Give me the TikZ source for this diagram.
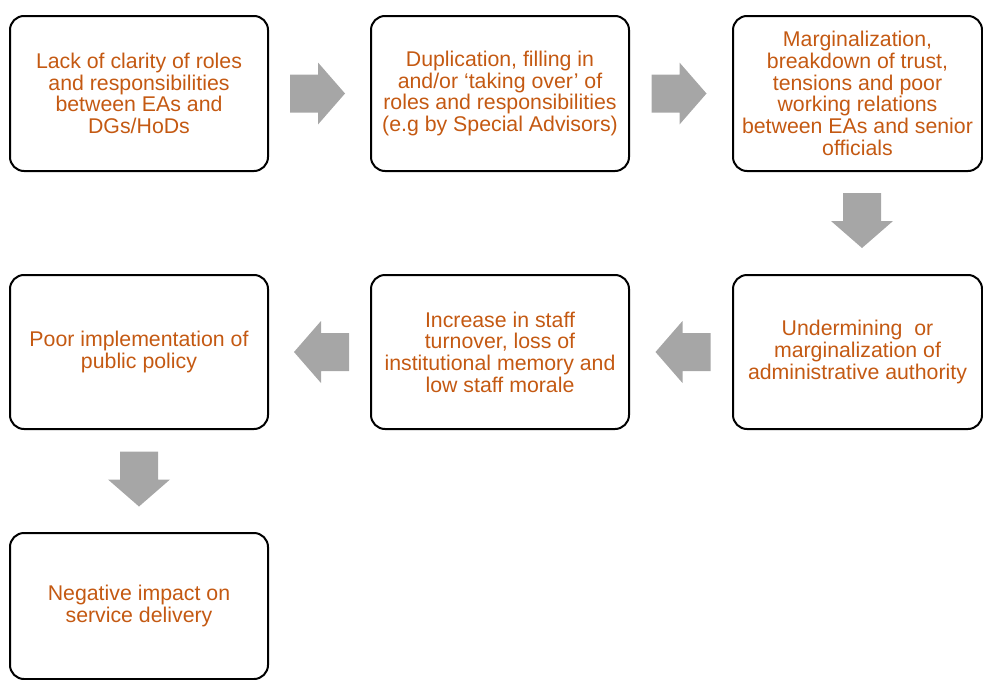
\documentclass[tikz,border=0pt]{standalone}
\usepackage{fontspec}
\setmainfont{Liberation Sans}
\usepackage{tikz}
\usetikzlibrary{calc}
\definecolor{morange}{rgb}{0.77, 0.35, 0.07}
\definecolor{mgray}{rgb}{0.65, 0.65, 0.65}

\begin{document}
\begin{tikzpicture}[x=1pt, y=-1pt,
    stepbox/.style={draw=black, line width=2pt, rounded corners=14pt, minimum width=258pt, minimum height=155pt, inner sep=0pt, align=center, text=morange, font=\fontsize{21.3}{21.7}\selectfont},
    pics/blockarrow/.style={code={
      \fill [mgray] (-27.5, -19) -- (0.5, -19) -- (0.5, -31) -- (27.5, 0) -- (0.5, 31) -- (0.5, 19) -- (-27.5, 19) -- cycle;
    }}]
    \useasboundingbox (0, 0) rectangle (983, 680);

    \node [stepbox] (lack) at (139, 93.5) {Lack of clarity of roles\\and responsibilities\\between EAs and\\DGs/HoDs};
    \node [stepbox] (dup) at (500, 93.5) {Duplication, filling in\\and/or ‘taking over’ of\\roles and responsibilities\\(e.g by Special Advisors)};
    \node [stepbox, minimum width=249pt] (marg) at (857.5, 93.5) {Marginalization,\\breakdown of trust,\\tensions and poor\\working relations\\between EAs and senior\\officials};
    \node [stepbox, minimum width=249pt, minimum height=154pt] (under) at (857.5, 352) {Undermining~ or\\marginalization of\\administrative authority};
    \node [stepbox, minimum height=154pt] (turn) at (500, 352) {Increase in staff\\turnover, loss of\\institutional memory and\\low staff morale};
    \node [stepbox, minimum height=154pt] (poor) at (139, 352) {Poor implementation of\\public policy};
    \node [stepbox, minimum height=146pt] (neg) at (139, 606) {Negative impact on\\service delivery};

    \pic at ($(lack.east)!0.5!(dup.west) + (-2, 0)$) {blockarrow};
    \pic at ($(dup.east)!0.5!(marg.west) + (-2, 0)$) {blockarrow};
    \pic [rotate=-90] at ($(marg.south)!0.5!(under.north) + (4.5, -2.5)$) {blockarrow};
    \pic [rotate=180] at ($(under.west)!0.5!(turn.east) + (2, 0)$) {blockarrow};
    \pic [rotate=180] at ($(turn.west)!0.5!(poor.east) + (2, 0)$) {blockarrow};
    \pic [rotate=-90] at ($(poor.south)!0.5!(neg.north) + (0, -2)$) {blockarrow};
  \end{tikzpicture}
\end{document}
